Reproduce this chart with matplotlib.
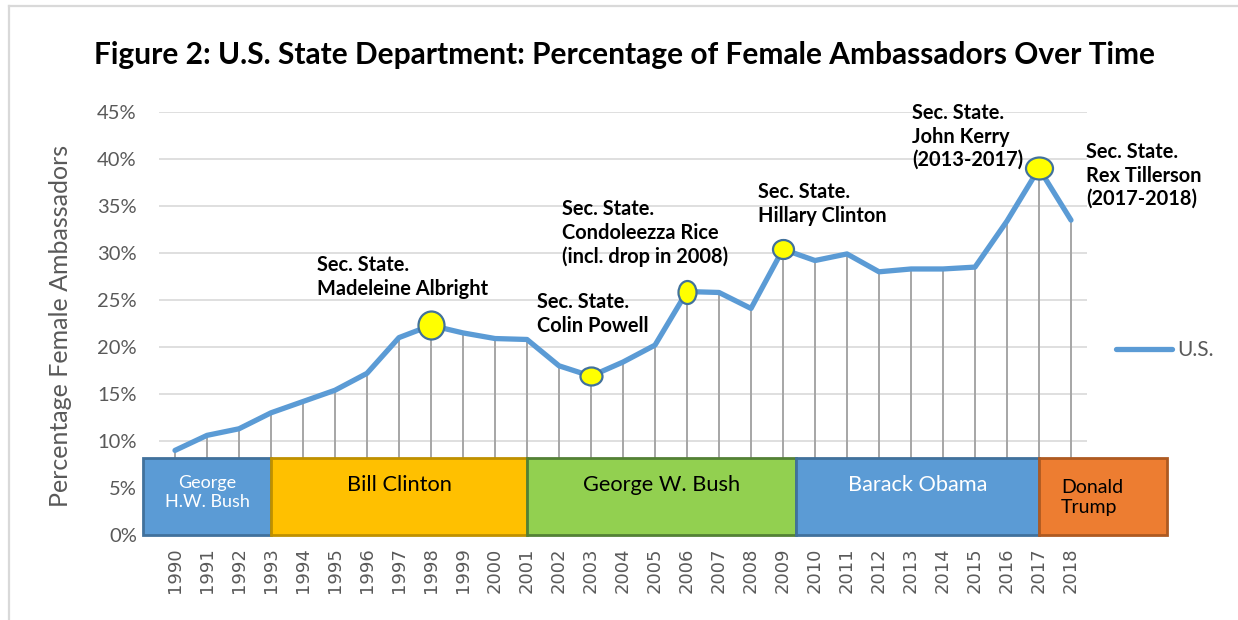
import matplotlib
matplotlib.use('Agg')
import matplotlib.pyplot as plt
from matplotlib.patches import Rectangle
from matplotlib.lines import Line2D
from matplotlib.path import Path
from matplotlib.transforms import Affine2D

plt.rcParams['font.family'] = ['Lato', 'DejaVu Sans']

years = list(range(1990, 2019))
pct = [9.0, 10.6, 11.3, 13.0, 14.2, 15.4, 17.2, 21.0, 22.3, 21.5, 20.9, 20.8,
       18.0, 16.9, 18.4, 20.2, 25.9, 25.8, 24.1, 30.4, 29.2, 29.9, 28.0, 28.3,
       28.3, 28.5, 33.4, 39.0, 33.5]

highlight_years = [1998, 2003, 2006, 2009, 2017]

presidents = ['George\nH.W. Bush', 'Bill Clinton', 'George W. Bush',
              'Barack Obama', 'Donald\nTrump']
term_start = [1989, 1993, 2001, 2009.4, 2017]
term_end = [1993, 2001, 2009.4, 2017, 2021]

secretaries = ['Sec. State.\nMadeleine Albright',
               'Sec. State.\nColin Powell',
               'Sec. State.\nCondoleezza Rice\n(incl. drop in 2008)',
               'Sec. State.\nHillary Clinton',
               'Sec. State.\nJohn Kerry\n(2013-2017)',
               'Sec. State.\nRex Tillerson\n(2017-2018)']

W, H = 1238, 620
fig = plt.figure(figsize=(W / 100, H / 100), dpi=100)
ax = fig.add_axes([159 / W, 1 - 535 / H, (1087 - 159) / W, (535 - 112) / H])

gray_txt = '#595959'
line_col = '#5B9BD5'

# drop lines + main line
ax.vlines(years, 0, pct, color='#A6A6A6', lw=1.4, zorder=2)
ax.plot(years, pct, color=line_col, lw=3.8, solid_joinstyle='round',
        solid_capstyle='round', zorder=3, label='U.S.')

# highlighted points (slightly squashed ellipses like the original)
marker_wh = {1998: (26, 28), 2003: (22, 18), 2006: (18, 23), 2009: (21, 19), 2017: (27, 22)}
for yr in highlight_years:
    w, h = marker_wh[yr]
    path = Path.unit_circle().transformed(Affine2D().scale(w, h))
    ax.plot([yr], [pct[years.index(yr)]], marker=path, ms=max(w, h) * 0.72,
            mfc='#FFFF00', mec='#41719C', mew=1.6, ls='none', zorder=4)

# president boxes
face = ['#5B9BD5', '#FFC000', '#92D050', '#5B9BD5', '#ED7D31']
edge = ['#41719C', '#BF9000', '#538135', '#41719C', '#AE5A21']
txtc = ['white', 'black', 'black', 'white', 'black']
for i, name in enumerate(presidents):
    ax.add_patch(Rectangle((term_start[i], 0), term_end[i] - term_start[i], 8.2,
                           facecolor=face[i], edgecolor=edge[i], lw=2,
                           clip_on=False, zorder=5))
for i, name in enumerate(presidents):
    if i == 0:
        ax.text((term_start[i] + term_end[i]) / 2, 4.55, name, ha='center', va='center',
                color=txtc[i], fontsize=13, linespacing=1.2, zorder=6)
    elif i == 4:
        ax.text(term_start[i] + 0.68, 4.0, name, ha='left', va='center',
                color=txtc[i], fontsize=14, linespacing=1.25, zorder=6, clip_on=False)
    else:
        ax.text((term_start[i] + term_end[i]) / 2, 5.3, name, ha='center', va='center',
                color=txtc[i], fontsize=15.7, zorder=6)

ax.set_xlim(1989.5, 2018.5)
ax.set_ylim(0, 45)
ax.set_yticks(range(0, 46, 5))
ax.set_yticklabels([f'{v}%' for v in range(0, 46, 5)])
ax.set_xticks(years)
ax.set_xticklabels([str(y) for y in years], rotation=90, fontfamily='DejaVu Sans')
ax.tick_params(axis='x', length=0, pad=9, labelsize=13, labelcolor=gray_txt)
ax.tick_params(axis='y', length=0, pad=16, labelsize=14.5, labelcolor=gray_txt)
ax.yaxis.grid(True, color='#D9D9D9', lw=1.2, zorder=0)
ax.set_axisbelow(True)
for s in ax.spines.values():
    s.set_visible(False)

ax.set_ylabel('Percentage Female Ambassadors', fontsize=18, color=gray_txt)
ax.yaxis.set_label_coords(-0.094, 0.494)

# secretary annotations (figure pixel positions of the text's top-left)
sec_xy = [(317, 255), (537, 292), (562, 199), (758, 182), (912, 103), (1086, 142)]
for txt, (px, py) in zip(secretaries, sec_xy):
    fig.text(px / W, 1 - py / H, txt, ha='left', va='top', fontsize=14.4,
             fontweight='bold', linespacing=1.22)

fig.text(625 / W, 1 - 55 / H,
         'Figure 2: U.S. State Department: Percentage of Female Ambassadors Over Time',
         ha='center', va='center', fontsize=21.5, fontweight='bold')

leg = ax.legend(loc='center left', bbox_to_anchor=(1116 / W, 1 - 350 / H),
                bbox_transform=fig.transFigure, frameon=False, fontsize=15,
                handlelength=2.7, handletextpad=0.25, borderpad=0, borderaxespad=0)
for t in leg.get_texts():
    t.set_color(gray_txt)

# chart-area border
fig.add_artist(Line2D([9 / W, 9 / W], [0, 1 - 6 / H], color='#D9D9D9', lw=1.6))
fig.add_artist(Line2D([9 / W, 1], [1 - 6 / H, 1 - 6 / H], color='#D9D9D9', lw=1.6))

fig.savefig('out.png', dpi=100)
